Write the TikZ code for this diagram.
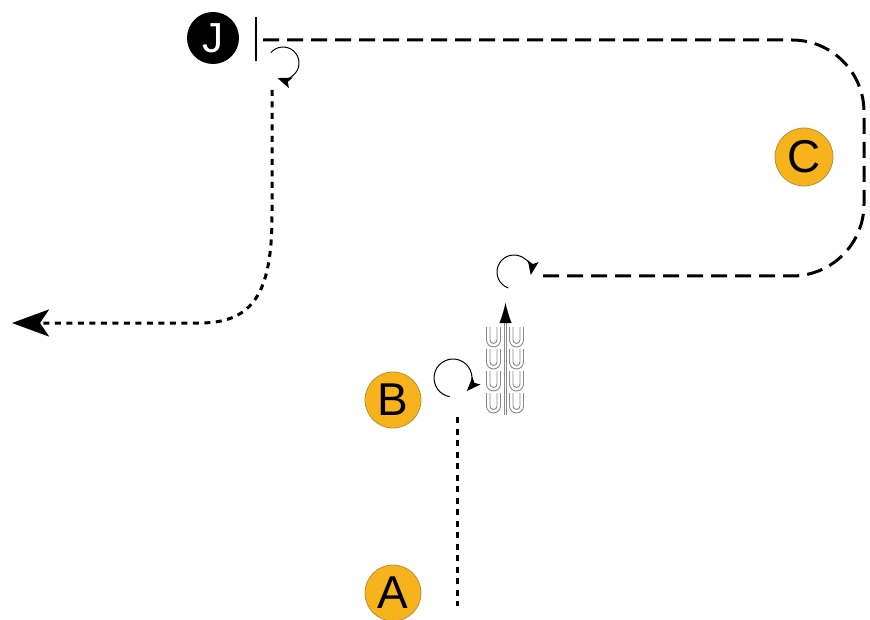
\documentclass[tikz,border=0pt]{standalone}
\usepackage{fontspec}
\setmainfont{Liberation Sans}
\usetikzlibrary{arrows.meta,calc}
\definecolor{badgeorange}{HTML}{F6B31B}
\definecolor{badgeedge}{HTML}{B8903A}
\definecolor{ugray}{HTML}{8A8A8A}
\tikzset{
  badge/.style={circle, fill=badgeorange, draw=badgeedge, line width=0.8pt, minimum size=56pt, inner sep=0pt, font=\fontsize{46}{46}\selectfont, text=black},
  jbadge/.style={circle, fill=black, minimum size=52pt, inner sep=0pt, font=\fontsize{42}{42}\selectfont, text=white},
  dashroute/.style={line width=3pt, dash pattern=on 16pt off 8pt, rounded corners=72pt},
  dotroute/.style={line width=3pt, dash pattern=on 6pt off 5.5pt},
  turnloop/.style={line width=1pt, -{Stealth[length=14pt,width=11pt,inset=3pt]}},
  ushape/.style={draw=ugray, line width=0.9pt},
}
\newcommand{\dblU}[2]{%
  \draw[ushape] (#1-7,#2) -- (#1-7,#2+13) arc[start angle=180,end angle=0,radius=7] -- (#1+7,#2);
  \draw[ushape] (#1-3.5,#2) -- (#1-3.5,#2+13) arc[start angle=180,end angle=0,radius=3.5] -- (#1+3.5,#2);
}
\begin{document}
\begin{tikzpicture}[x=1pt,y=-1pt]
\useasboundingbox (0,0) rectangle (870,620);
% badges
\node[jbadge] (J) at (213,38) {J};
\node[badge, minimum size=58pt] (C) at (804,157) {C};
\node[badge] (B) at (393,400) {B};
\node[badge] (A) at (393,593) {A};
% coordinates
\coordinate (bartop) at (256,17);
\coordinate (barbot) at (256,61);
\coordinate (cstart) at (263,40);
\coordinate (cend) at (543,276);
\coordinate (jl) at (283,63);
\coordinate (cl) at (514,272);
\coordinate (bl) at (453,378);
\coordinate (jdotstart) at (272,90);
\coordinate (exit) at (12,323);
\coordinate (bdotstart) at (457,417);
\coordinate (bdotend) at (457,606);
\coordinate (ubase) at (505.5,415);
\coordinate (utip) at (505.5,303);
% stop bar
\draw[line width=2pt] (bartop) -- (barbot);
% long dashed route
\draw[dashroute] (cstart) -- (864,40) -- (864,276) -- (cend);
% turning loops
\draw[turnloop] ($(jl)+(-140:16)$) arc[start angle=-140,end angle=110,radius=16];
\draw[turnloop] ($(cl)+(110:17)$) arc[start angle=110,end angle=370,radius=17];
\draw[turnloop] ($(bl)+(100:19)$) arc[start angle=100,end angle=403,radius=19];
% dotted exit route
\draw[dotroute, -{Stealth[length=37pt,width=27pt,inset=9pt]}] (jdotstart) -- (272,215) .. controls (272,290) and (255,323) .. (200,323) -- (exit);
% dotted approach from A
\draw[dotroute] (bdotstart) -- (bdotend);
% U-turn stack
\foreach \yy in {327,349,371,393} {
  \dblU{493.5}{\yy}
  \dblU{516.5}{\yy}
}
\draw[draw=ugray, line width=0.8pt, double=white, double distance=1.6pt] (ubase) -- ($(utip)+(0,18)$);
\draw[line width=0.1pt, -{Latex[length=20pt,width=12pt]}] ($(utip)+(0,19)$) -- (utip);
\end{tikzpicture}
\end{document}
